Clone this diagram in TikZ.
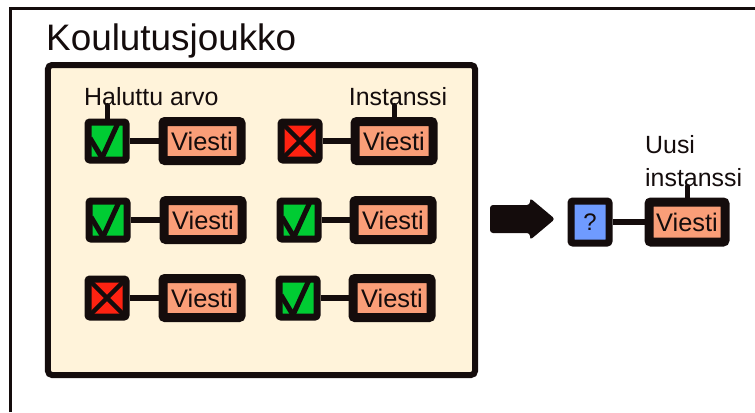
\documentclass[tikz,border=0pt]{standalone}
\usepackage{fontspec}
\setmainfont{Liberation Sans}
\usetikzlibrary{calc}

\definecolor{ink}{HTML}{140C0C}
\definecolor{cream}{HTML}{FFF3DA}
\definecolor{okgreen}{HTML}{00CC33}
\definecolor{nored}{HTML}{FF2211}
\definecolor{salmon}{HTML}{FA9E78}
\definecolor{qblue}{HTML}{6F9BFF}

\begin{document}
\begin{tikzpicture}[x=1bp,y=-1bp,
  lbl/.style={font=\fontsize{25}{33}\selectfont, inner sep=0pt, text=ink},
  cbox/.style={draw=ink, line width=7bp, minimum width=38bp, minimum height=38bp,
    rounded corners=2bp, inner sep=0pt},
  yes/.style={cbox, fill=okgreen, path picture={
    \draw[ink, line width=5bp]
      ($(path picture bounding box.center)+(-17,-3)$) --
      ($(path picture bounding box.center)+(-5,17)$) --
      ($(path picture bounding box.center)+(11,-18)$);}},
  no/.style={cbox, fill=nored, path picture={
    \draw[ink, line width=4.5bp]
      (path picture bounding box.north west) -- (path picture bounding box.south east)
      (path picture bounding box.north east) -- (path picture bounding box.south west);}},
  ask/.style={cbox, fill=qblue, minimum height=42bp, text=ink,
    font=\fontsize{24}{24}\selectfont},
  msg/.style={draw=ink, line width=9bp, fill=salmon, minimum width=78bp,
    minimum height=39bp, rounded corners=2bp, inner sep=0pt, text=ink,
    font=\fontsize{25.5}{25.5}\selectfont},
  link/.style={draw=ink, line width=6bp},
  stub/.style={draw=ink, line width=5bp, line cap=round},
]
\useasboundingbox (0,0) rectangle (755,412);

% outer frame
\draw[ink, line width=3bp] (10,412) -- (10,8) -- (755,8);

% training set container
\node[draw=ink, line width=6bp, fill=cream, rounded corners=4bp,
  minimum width=427bp, minimum height=310bp, inner sep=0pt] (set) at (261.5,220) {};
\node[anchor=base west, font=\fontsize{37}{40}\selectfont, inner sep=0pt, text=ink]
  (title) at (46,50) {Koulutusjoukko};

% instances: label box + message box
\node[yes] (c11) at (107,141) {};
\node[msg] (m11) at (202,141) {Viesti};
\node[no]  (c12) at (300,141) {};
\node[msg] (m12) at (394,141) {Viesti};
\node[yes] (c21) at (108,220) {};
\node[msg] (m21) at (203,220) {Viesti};
\node[yes] (c22) at (299,220) {};
\node[msg] (m22) at (393,220) {Viesti};
\node[no]  (c31) at (107,298) {};
\node[msg] (m31) at (202,298) {Viesti};
\node[yes] (c32) at (298,298) {};
\node[msg] (m32) at (392,298) {Viesti};

\foreach \r in {11,12,21,22,31,32}
  \draw[link] (c\r) -- (m\r);

% captions
\node[lbl, anchor=base west] (lhal) at (84,105) {Haluttu arvo};
\node[lbl, anchor=base] (lins) at (398,105) {Instanssi};
\draw[stub] (c11.north) -- (c11.north |- lhal.south);
\draw[stub] (m12.north) -- (m12.north |- lins.south);

% arrow to the prediction
\coordinate (arrtail) at (490,219);
\coordinate (arrtip) at (555,219);
\fill[ink, rounded corners=3bp] (arrtail) ++(0,-14) -- ++(40,0) -- ++(0,-7)
  -- (arrtip) -- ++(-25,21) -- ++(0,-7) -- ++(-40,0) -- cycle;

% new instance
\node[ask] (cq) at (590,222) {?};
\node[msg, minimum width=76bp, minimum height=40bp] (mq) at (687,222) {Viesti};
\draw[link] (cq) -- (mq);
\node[lbl, anchor=base west, align=left] (luusi) at (645,186)
  {Uusi\\instanssi};
\draw[stub] (mq.north) -- (mq.north |- luusi.south);

\end{tikzpicture}
\end{document}
